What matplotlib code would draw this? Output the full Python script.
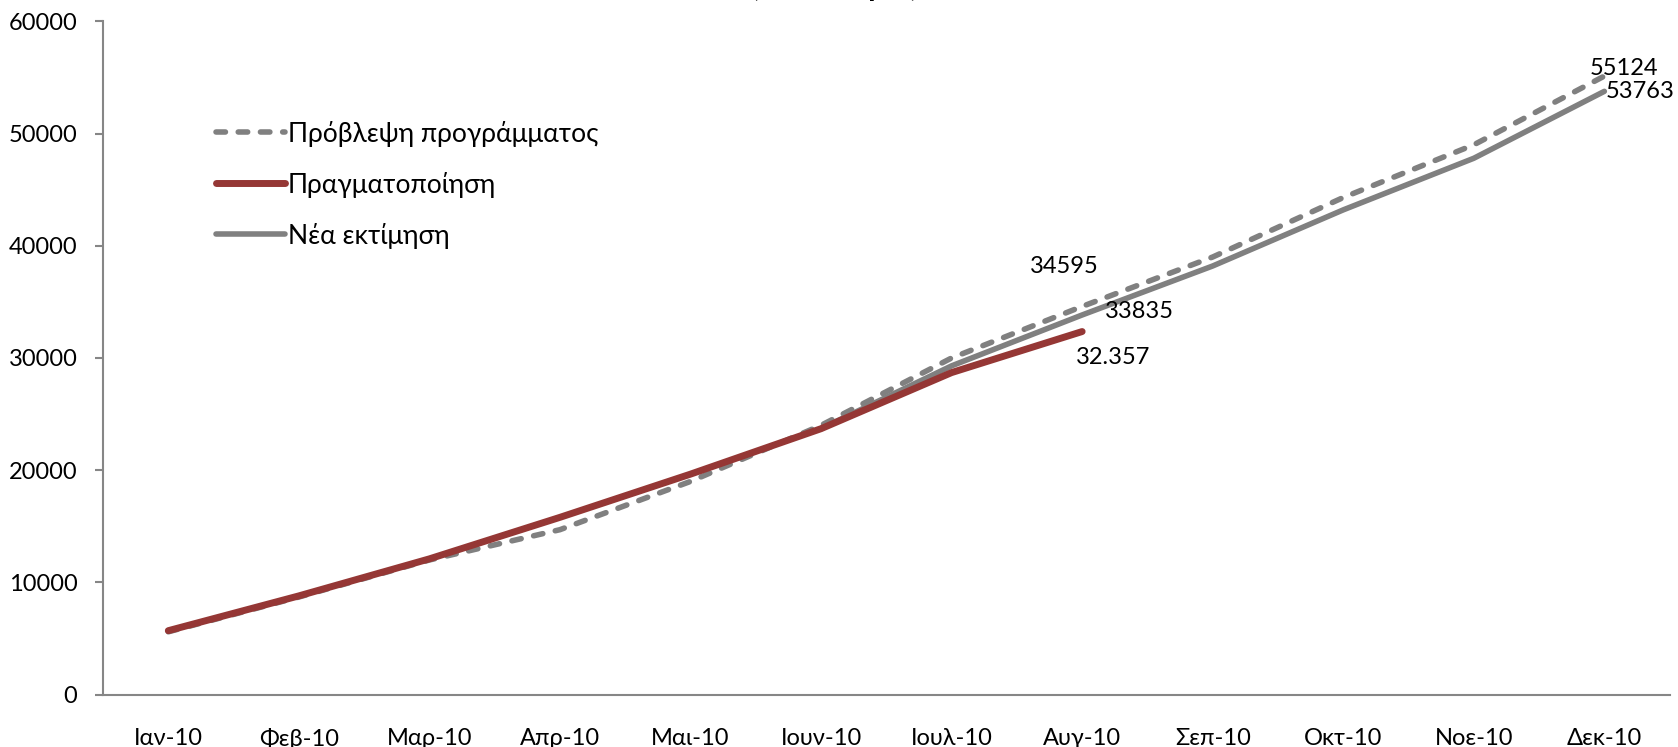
import matplotlib.pyplot as plt

plt.rcParams['font.family'] = ['Lato', 'Open Sans', 'DejaVu Sans']

months = ['Ιαν-10', 'Φεβ-10', 'Μαρ-10', 'Απρ-10', 'Μαι-10', 'Ιουν-10',
          'Ιουλ-10', 'Αυγ-10', 'Σεπ-10', 'Οκτ-10', 'Νοε-10', 'Δεκ-10']

# programme forecast (dashed)
forecast = [5600, 8700, 12000, 14700, 19000, 24000,
            30000, 34595, 39000, 44300, 49000, 55124]
# actual outturn (red), up to August
actual = [5700, 8800, 12100, 15800, 19650, 23700, 28700, 32357]
# new estimate (solid grey), from June on
estimate = [None, None, None, None, None, 23700,
            29300, 33835, 38200, 43200, 47800, 53763]

grey = '#808080'
red = '#953735'

fig = plt.figure(figsize=(16.78, 7.47), dpi=100)
ax = fig.add_axes([0.0614, 0.0701, 0.9336, 0.9013])

x = list(range(len(months)))
est_x = [i for i, v in zip(x, estimate) if v is not None]
est_y = [v for v in estimate if v is not None]

ax.plot(x, forecast, color=grey, lw=4, dashes=(1.7, 2.3),
        dash_capstyle='round', label='Πρόβλεψη προγράμματος', zorder=2)
ax.plot(est_x, est_y, color=grey, lw=4, solid_capstyle='round',
        label='Νέα εκτίμηση', zorder=3)
ax.plot(x[:len(actual)], actual, color=red, lw=5, solid_capstyle='round',
        label='Πραγματοποίηση', zorder=4)

ax.set_xlim(-0.5, len(months) - 0.5)
ax.set_ylim(0, 60000)
ax.set_yticks(range(0, 60001, 10000))
ax.set_xticks(x)
ax.set_xticklabels(months)
ax.tick_params(axis='y', labelsize=17, length=6, width=1.5, color='#868686', pad=12.5)
ax.tick_params(axis='x', labelsize=17, length=0, pad=24)

for s in ['top', 'right']:
    ax.spines[s].set_visible(False)
for s in ['left', 'bottom']:
    ax.spines[s].set_color('#868686')
    ax.spines[s].set_linewidth(1.5)

fs = 17
ax.annotate('34595', (7, forecast[7]), xytext=(-18, 40), textcoords='offset pixels',
            ha='center', va='center', fontsize=fs)
ax.annotate('33835', (7, estimate[7]), xytext=(57, 3), textcoords='offset pixels',
            ha='center', va='center', fontsize=fs)
ax.annotate('32.357', (7, actual[7]), xytext=(31, -26), textcoords='offset pixels',
            ha='center', va='center', fontsize=fs)
ax.annotate('55124', (11, forecast[11]), xytext=(20, 8), textcoords='offset pixels',
            ha='center', va='center', fontsize=fs)
ax.annotate('53763', (11, estimate[11]), xytext=(36, 0), textcoords='offset pixels',
            ha='center', va='center', fontsize=fs)

h, l = ax.get_legend_handles_labels()
order = [0, 2, 1]
ax.legend([h[i] for i in order], [l[i] for i in order], loc='upper left',
          bbox_to_anchor=(0.057, 0.888), frameon=False, fontsize=19,
          handlelength=2.6, handletextpad=0.12, labelspacing=0.95)

# title sits mostly above the canvas, only its descenders show
fig.text(835 / 1678, 1.006, '(εκατ. ευρώ)', ha='center', va='baseline',
         fontsize=22, fontweight='bold')

fig.savefig('out.png', dpi=100)
